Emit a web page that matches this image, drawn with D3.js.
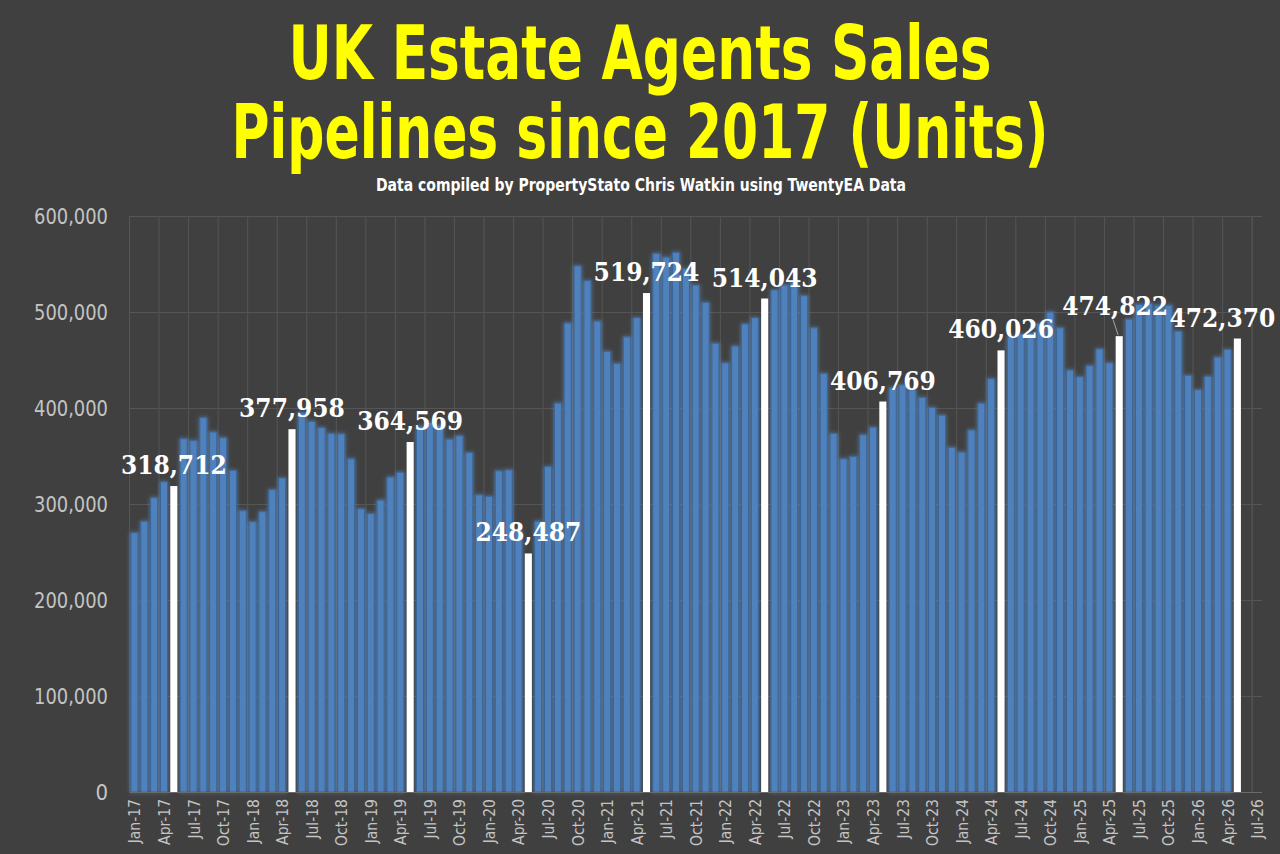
<!DOCTYPE html>
<html>
<head>
<meta charset="utf-8">
<script src="https://cdn.jsdelivr.net/npm/d3@7"></script>
<style>
  html, body { margin: 0; padding: 0; background: #404040; }
  svg { display: block; }
  .title { font-family: "Liberation Sans Narrow", "DejaVu Sans Condensed", "Arial Narrow", sans-serif; font-stretch: condensed; font-weight: bold; fill: #ffff00; }
  .sub { font-family: "Liberation Sans Narrow", "DejaVu Sans Condensed", sans-serif; font-stretch: condensed; font-weight: bold; fill: #ffffff; }
  .tick-y { font-family: "Liberation Sans Narrow", "DejaVu Sans Condensed", sans-serif; font-stretch: condensed; fill: #c4c4c4; }
  .tick-x { font-family: "Liberation Sans Narrow", "DejaVu Sans Condensed", sans-serif; font-stretch: condensed; fill: #c4c4c4; }
  .val { font-family: "DejaVu Serif", serif; font-stretch: condensed; font-weight: bold; fill: #ffffff; }
</style>
</head>
<body>
<div id="chart"></div>
<script>
// monthly pipeline units, Jan-17 .. May-26
const pipeline = [
  // 2017
  270000, 282000, 306500, 323000, 318712, 368000, 366000, 390000, 375000, 369000, 335000, 293000,
  // 2018
  281500, 292000, 315000, 327000, 377958, 395000, 386000, 379500, 373500, 373000, 347000, 295000,
  // 2019
  290000, 304000, 328000, 333000, 364569, 381000, 385000, 382000, 367500, 371000, 353500, 309500,
  // 2020
  308000, 334500, 335500, 272000, 248487, 282000, 339000, 405000, 488500, 548000, 532500, 490500,
  // 2021
  459000, 446500, 474000, 494000, 519724, 561000, 557000, 562000, 545000, 528000, 510000, 467500,
  // 2022
  447000, 464500, 487500, 494000, 514043, 523000, 528000, 531000, 517000, 483500, 436000, 373500,
  // 2023
  347000, 349500, 372000, 380000, 406769, 421000, 424000, 419000, 411000, 400500, 392500, 359000,
  // 2024
  354000, 377000, 405000, 430500, 460026, 474000, 477000, 478000, 488000, 500000, 483500, 439500,
  // 2025
  432500, 444000, 461500, 447000, 474822, 492500, 508000, 509000, 507000, 507000, 480000, 434000,
  // 2026
  419000, 433000, 453000, 461000, 472370
];

// the May figures are picked out in white with a label
const highlighted = ["May-17", "May-18", "May-19", "May-20", "May-21", "May-22", "May-23", "May-24", "May-25", "May-26"];

const yTicks = [0, 100000, 200000, 300000, 400000, 500000, 600000];

const titleLines = ["UK Estate Agents Sales", "Pipelines since 2017 (Units)"];
const subtitle = "Data compiled by PropertyStato Chris Watkin using TwentyEA Data";

// category axis runs on to Jul-26
const fmt = d3.timeFormat("%b-%y");
const months = d3.timeMonth.range(new Date(2017, 0, 1), new Date(2026, 7, 1)).map(fmt);
const data = pipeline.map((v, i) => ({ month: months[i], value: v }));

const W = 1280, H = 854;
const plot = { left: 129.5, right: 1262, top: 216, bottom: 792 };

const svg = d3.select("#chart").append("svg")
  .attr("width", W)
  .attr("height", H);

svg.append("rect").attr("width", W).attr("height", H).attr("fill", "#404040");

// soft blue glow round the bars
const defs = svg.append("defs");
const glow = defs.append("filter").attr("id", "glow")
  .attr("x", "-5%").attr("y", "-5%").attr("width", "110%").attr("height", "110%");
glow.append("feGaussianBlur").attr("in", "SourceAlpha").attr("stdDeviation", 2).attr("result", "blur");
glow.append("feFlood").attr("flood-color", "#6c9ede").attr("flood-opacity", 0.55);
glow.append("feComposite").attr("in2", "blur").attr("operator", "in").attr("result", "halo");
const merge = glow.append("feMerge");
merge.append("feMergeNode").attr("in", "halo");
merge.append("feMergeNode").attr("in", "SourceGraphic");

const pad = 0.28;
const x = d3.scaleBand()
  .domain(months)
  .range([plot.left, plot.right])
  .paddingInner(pad)
  .paddingOuter(pad / 2);

const y = d3.scaleLinear()
  .domain([0, 600000])
  .range([plot.bottom, plot.top]);

const slotStart = (m) => x(m) - (x.step() - x.bandwidth()) / 2;

// gridlines
const grid = svg.append("g").attr("stroke", "#555555").attr("stroke-width", 1);
grid.selectAll("line.h")
  .data(yTicks)
  .join("line")
  .attr("class", "h")
  .attr("x1", plot.left)
  .attr("x2", plot.right)
  .attr("y1", (d) => Math.round(y(d)) + 0.5)
  .attr("y2", (d) => Math.round(y(d)) + 0.5);

grid.selectAll("line.v")
  .data(months.filter((m, i) => i % 3 === 0).concat(["end"]))
  .join("line")
  .attr("class", "v")
  .attr("x1", (d) => (d === "end" ? plot.right - x.step() : slotStart(d)))
  .attr("x2", (d) => (d === "end" ? plot.right - x.step() : slotStart(d)))
  .attr("y1", plot.top)
  .attr("y2", plot.bottom);

// y axis labels
svg.append("g")
  .selectAll("text")
  .data(yTicks)
  .join("text")
  .attr("class", "tick-y")
  .attr("x", 108)
  .attr("y", (d) => y(d))
  .attr("dy", "0.36em")
  .attr("text-anchor", "end")
  .attr("font-size", "22px")
  .attr("textLength", (d) => (d === 0 ? null : 74))
  .attr("lengthAdjust", "spacingAndGlyphs")
  .text((d) => d3.format(",")(d));

// bars
const isHi = (d) => highlighted.includes(d.month);

svg.append("g")
  .attr("filter", "url(#glow)")
  .selectAll("rect")
  .data(data.filter((d) => !isHi(d)))
  .join("rect")
  .attr("x", (d) => x(d.month))
  .attr("y", (d) => y(d.value))
  .attr("width", x.bandwidth())
  .attr("height", (d) => y(0) - y(d.value))
  .attr("fill", "#4f81bd")
  .attr("stroke", "#3a6596")
  .attr("stroke-width", 1);

svg.append("g")
  .selectAll("rect")
  .data(data.filter(isHi))
  .join("rect")
  .attr("x", (d) => x(d.month))
  .attr("y", (d) => y(d.value))
  .attr("width", x.bandwidth())
  .attr("height", (d) => y(0) - y(d.value))
  .attr("fill", "#ffffff");

// x axis line
svg.append("line")
  .attr("x1", plot.left).attr("x2", plot.right)
  .attr("y1", plot.bottom + 0.5).attr("y2", plot.bottom + 0.5)
  .attr("stroke", "#6a6a6a");

// x axis labels every third month
svg.append("g")
  .selectAll("text")
  .data(months.filter((m, i) => i % 3 === 0))
  .join("text")
  .attr("class", "tick-x")
  .attr("font-size", "15.5px")
  .attr("text-anchor", "end")
  .attr("transform", (d) => `translate(${x(d) + x.bandwidth() / 2 + 6},799) rotate(-90)`)
  .text((d) => d);

// value labels, a couple nudged the way they are in the original
const nudge = { "May-25": [-4, -9], "May-26": [-15, 0] };

const labels = svg.append("g");
data.filter(isHi).forEach((d) => {
  const [dx, dy] = nudge[d.month] || [0, 0];
  const cx = x(d.month) + x.bandwidth() / 2;
  const by = y(d.value) - 12;
  if (dy !== 0) {
    labels.append("line")
      .attr("x1", cx - 6).attr("y1", by + dy + 5)
      .attr("x2", cx - 1).attr("y2", y(d.value) - 1)
      .attr("stroke", "#a6a6a6").attr("stroke-width", 1);
  }
  labels.append("text")
    .attr("class", "val")
    .attr("font-size", "26px")
    .attr("text-anchor", "middle")
    .attr("x", cx + dx)
    .attr("y", by + dy)
    .text(d3.format(",")(d.value));
});

// titles, squeezed to the width of the original condensed face
const titleWidths = [703, 817];
svg.append("g")
  .selectAll("text")
  .data(titleLines)
  .join("text")
  .attr("class", "title")
  .attr("x", 640)
  .attr("y", (d, i) => 79 + i * 79)
  .attr("text-anchor", "middle")
  .attr("font-size", "74px")
  .attr("textLength", (d, i) => titleWidths[i])
  .attr("lengthAdjust", "spacingAndGlyphs")
  .text((d) => d);

svg.append("text")
  .attr("class", "sub")
  .attr("x", 641)
  .attr("y", 191)
  .attr("text-anchor", "middle")
  .attr("font-size", "17px")
  .attr("textLength", 530)
  .attr("lengthAdjust", "spacingAndGlyphs")
  .text(subtitle);
</script>
</body>
</html>
